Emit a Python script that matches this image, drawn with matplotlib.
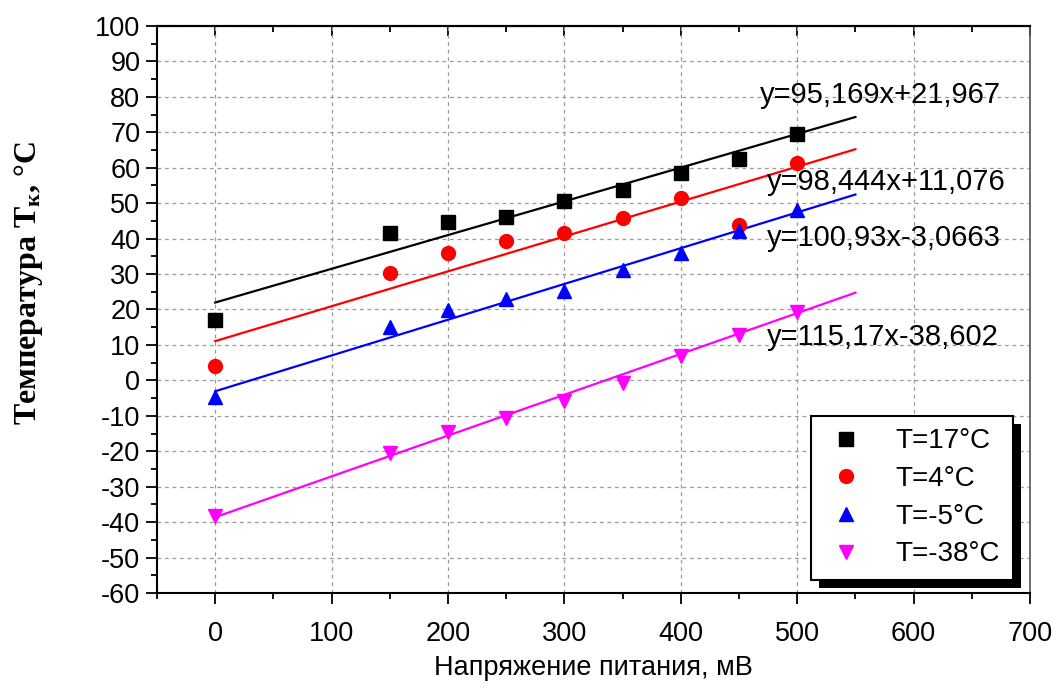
import matplotlib
matplotlib.use("Agg")
import matplotlib.pyplot as plt
import numpy as np
from matplotlib.ticker import MultipleLocator
from matplotlib.patches import Rectangle
from matplotlib.transforms import IdentityTransform

# ---------------- data ----------------
voltage = [0, 150, 200, 250, 300, 350, 400, 450, 500]
t_17 = [17, 41.6, 44.6, 46.2, 50.7, 53.7, 58.6, 62.5, 69.5]
t_4 = [4, 30.3, 35.9, 39.3, 41.6, 45.8, 51.4, 43.8, 61.4]
t_m5 = [-4.7, 15.0, 19.9, 23.0, 25.2, 31.2, 36.0, 42.2, 48.1]
t_m38 = [-38.3, -20.5, -14.6, -10.6, -5.8, -0.8, 6.8, 12.8, 19.4]

series_labels = ["T=17°C", "T=4°C", "T=-5°C", "T=-38°C"]
slopes = [95.169, 98.444, 100.93, 115.17]        # per V
intercepts = [21.967, 11.076, -3.0663, -38.602]
eq_labels = ["y=95,169x+21,967", "y=98,444x+11,076",
             "y=100,93x-3,0663", "y=115,17x-38,602"]
fit_range = [0, 550]

x_ticks = [0, 100, 200, 300, 400, 500, 600, 700]
y_ticks = list(range(-60, 101, 10))

# ---------------- style ----------------
colors = ["#000000", "#ff0000", "#0000ff", "#ff00ff"]
markers = ["s", "o", "^", "v"]
msizes = [9.5, 10, 10.5, 10.5]
eq_pos = [(468, 80.5), (474, 56.0), (474, 40.2), (474, 12.2)]

plt.rcParams["font.family"] = ["Liberation Sans", "DejaVu Sans"]
plt.rcParams["axes.unicode_minus"] = False
plt.rcParams["mathtext.fontset"] = "custom"
plt.rcParams["mathtext.rm"] = "Liberation Serif:bold"
plt.rcParams["mathtext.it"] = "Liberation Serif:bold"
plt.rcParams["mathtext.bf"] = "Liberation Serif:bold"

fig = plt.figure(figsize=(10.56, 6.87), dpi=100)
ax = fig.add_axes([0.1487, 0.1368, 0.9754 - 0.1487, 0.9622 - 0.1368])

series = [t_17, t_4, t_m5, t_m38]
xf = np.array(fit_range, dtype=float)
for ys, c, m, ms, lab, k, b in zip(series, colors, markers, msizes,
                                   series_labels, slopes, intercepts):
    ax.plot(voltage, ys, linestyle="none", marker=m, color=c, ms=ms,
            label=lab, zorder=4)
    ax.plot(xf, k * xf / 1000.0 + b, color=c, lw=1.6, zorder=3)

for txt, (px, py) in zip(eq_labels, eq_pos):
    ax.text(px, py, txt, fontsize=21, va="center", ha="left", zorder=5)

ax.set_xlim(-50, 700)
ax.set_ylim(-60, 100)
ax.set_xticks(x_ticks)
ax.set_yticks(y_ticks)
ax.xaxis.set_minor_locator(MultipleLocator(50))
ax.yaxis.set_minor_locator(MultipleLocator(5))

ax.grid(True, which="major", linestyle=(0, (3, 3)), color="#9a9a9a",
        lw=0.9, zorder=1)

ax.tick_params(axis="both", which="major", labelsize=19.5, length=8,
               width=1.3, direction="out", top=False, right=False)
ax.tick_params(axis="both", which="minor", length=4.5, width=1.3,
               direction="out", top=False, right=False)
ax.tick_params(axis="x", pad=12)
ax.tick_params(axis="y", pad=4)

# top axis ticks pointing inward
secx = ax.secondary_xaxis("top")
secx.set_xticks(x_ticks)
secx.xaxis.set_minor_locator(MultipleLocator(50))
secx.tick_params(which="major", direction="in", length=7, width=1.3,
                 labeltop=False)
secx.tick_params(which="minor", direction="in", length=4, width=1.3)
secx.spines["top"].set_linewidth(1.5)

for s in ["left", "bottom", "top"]:
    ax.spines[s].set_linewidth(1.5)
ax.spines["right"].set_linewidth(1.2)
ax.spines["right"].set_color("#555555")

ax.set_xlabel("Напряжение питания, мВ", fontsize=19.5, labelpad=6)
fig.text(0.027, 0.588, r"Температура T$_{\mathrm{к}}$, °C",
         rotation=90, va="center", ha="center", fontsize=23,
         family="Liberation Serif", weight="bold")

leg = ax.legend(loc="lower right", bbox_to_anchor=(0.98, 0.023),
                fontsize=20, frameon=True, fancybox=False,
                edgecolor="black", framealpha=1, borderpad=0.45,
                labelspacing=0.42, handletextpad=1.0, handlelength=1.6,
                borderaxespad=0.0, markerscale=1.0)
leg.get_frame().set_linewidth(1.5)
leg.set_zorder(10)

fig.canvas.draw()
bb = leg.get_window_extent()
shadow = Rectangle((bb.x0 + 8, bb.y0 - 8), bb.width, bb.height,
                   transform=IdentityTransform(), facecolor="black",
                   edgecolor="none", zorder=9)
ax.add_artist(shadow)

fig.savefig("out.png", dpi=100)
